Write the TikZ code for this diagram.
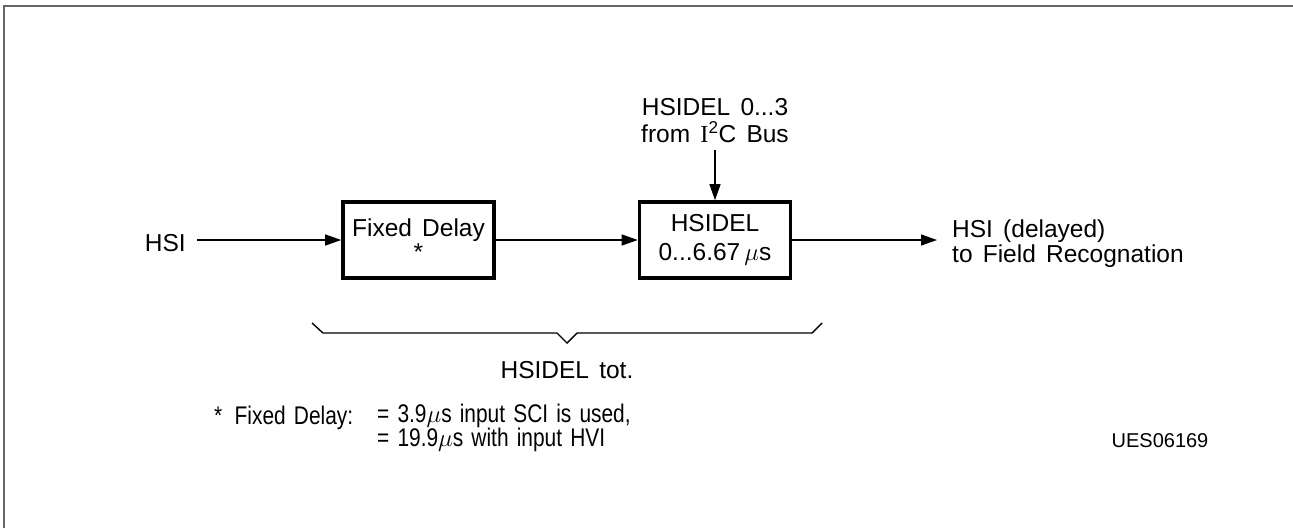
\documentclass[tikz,border=0pt]{standalone}
\usepackage{fontspec}
\setmainfont{Liberation Sans}[WordSpace={1.5}]
\newfontfamily\serifI{Liberation Serif}
\newfontfamily\notefont{Liberation Sans}[FakeStretch=0.82,WordSpace={1.4}]
\usetikzlibrary{arrows.meta}
\begin{document}
\begin{tikzpicture}[x=1pt,y=-1pt,
  every node/.style={font=\fontsize{24.5}{25}\selectfont, inner sep=0pt},
  blockbox/.style={draw, line width=3.6pt, align=center, minimum width=151pt, minimum height=76pt},
  conn/.style={line width=1.3pt, -{Triangle[length=16pt,width=11pt]}},
  frameline/.style={draw=black!60, line width=2pt},
  txt/.style={align=center},
  note/.style={font=\notefont\fontsize{25.5}{22}\selectfont}]
\useasboundingbox (0,0) rectangle (1293,528);
\draw[frameline] (3.5,528) -- (3.5,5.5) -- (1293,5.5);

\node[anchor=east] (hsi) at (186,243) {HSI};
\node[blockbox] (fd) at (418.5,240) {Fixed Delay\\[-1pt]*};
\node[blockbox] (hd) at (715,240) {HSIDEL\\[4pt]0...6.67$\,\mu$s};
\node[txt] (bus) at (715,121) {HSIDEL 0...3\\[2pt]from {\serifI I}\textsuperscript{2}C Bus};
\coordinate (busend) at (715,150);
\coordinate (outend) at (937,240);
\node[anchor=west, align=left] (outlbl) at (952,244) {HSI (delayed)\\to Field Recognation};

\coordinate (hsis) at (197,240);
\draw[conn] (hsis) -- (fd.west);
\draw[conn] (fd.east) -- (hd.west);
\draw[conn] (busend) -- (hd.north);
\draw[conn] (hd.east) -- (outend);

\coordinate (b1) at (312,323);
\coordinate (b2) at (323,333);
\coordinate (b3) at (557,333);
\coordinate (tip) at (567,343);
\coordinate (b4) at (577,333);
\coordinate (b5) at (812,333);
\coordinate (b6) at (822,323);
\draw[line width=1.4pt] (b1) -- (b2) -- (b3) -- (tip) -- (b4) -- (b5) -- (b6);
\node (tot) at (567,370) {HSIDEL tot.};

\node[note, anchor=west] (fn1) at (214,418) {*\, Fixed Delay:};
\node[note, anchor=west, align=left] (fn2) at (377,428) {= 3.9$\mu$s input SCI is used,\\= 19.9$\mu$s with input HVI};
\node[font=\fontsize{20}{21}\selectfont] (ues) at (1160,441) {UES06169};
\end{tikzpicture}
\end{document}
